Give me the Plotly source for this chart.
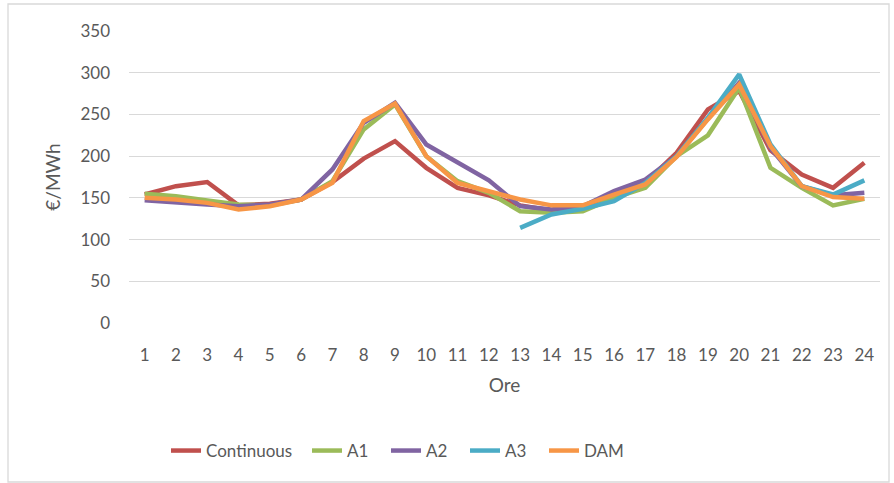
import plotly.graph_objects as go

# Hourly prices (€/MWh) for each market session
hours = [str(h) for h in range(1, 25)]

continuous = [154, 164, 169, 141, 143, 148, 169, 197, 218, 186, 162, 153,
              141, 135, 137, 152, 168, 204, 256, 278, 207, 178, 162, 192]
a1 = [155, 152, 147, 142, 141, 148, 170, 232, 262, 200, 170, 156,
      134, 132, 134, 150, 162, 200, 225, 282, 186, 162, 141, 149]
a2 = [147, 144, 142, 140, 142, 148, 184, 240, 264, 214, 192, 171,
      140, 136, 140, 158, 172, 200, 245, 288, 210, 164, 153, 156]
a3 = [None] * 12 + [114, 130, 137, 146, 168, 200, 246, 298, 214, 164, 154, 171]
dam = [150, 148, 144, 136, 140, 148, 168, 242, 263, 200, 168, 158,
       148, 141, 141, 154, 166, 199, 244, 286, 212, 164, 151, 149]

series_names = ["Continuous", "A1", "A2", "A3", "DAM"]
series_values = [continuous, a1, a2, a3, dam]
series_colors = ["#C0504D", "#9BBB59", "#8064A2", "#4BACC6", "#F79646"]

y_ticks = list(range(0, 351, 50))

font_family = "Lato, 'Liberation Sans', sans-serif"
text_color = "#595959"
grid_color = "#D9D9D9"

# plot area spans x 129..880 and y 31..323 in pixels
L, R, T, B = 129, 880, 31, 323
W, H = 894, 483
pw, ph = R - L, B - T


def px_x(p):
    return (p - L) / pw


def px_y(p):
    return (B - p) / ph


# each series gets its own one-entry legend so the entries can be spaced freely
legend_left = [166, 307, 386, 465, 544]
legend_ids = ["legend"] + [f"legend{i}" for i in range(2, len(series_names) + 1)]

fig = go.Figure()
for name, values, color, lid in zip(series_names, series_values, series_colors, legend_ids):
    fig.add_trace(go.Scatter(
        x=hours, y=values, name=name, mode="lines",
        line=dict(color=color, width=4.5),
        connectgaps=False, legend=lid,
    ))

legend_layouts = {
    lid: dict(
        orientation="h", x=px_x(lx), y=px_y(451),
        xanchor="left", yanchor="middle",
        font=dict(size=17, color=text_color, family=font_family),
        bgcolor="rgba(0,0,0,0)",
    )
    for lid, lx in zip(legend_ids, legend_left)
}

fig.update_layout(
    width=W, height=H,
    margin=dict(l=L, r=W - R, t=T, b=H - B, pad=0),
    paper_bgcolor="white", plot_bgcolor="white",
    font=dict(family=font_family, color=text_color, size=17),
    showlegend=True,
    xaxis=dict(
        type="category", range=[-0.5, 23.5],
        showgrid=False, showline=False, zeroline=False, ticks="",
        tickfont=dict(size=17, color=text_color),
        ticklabelstandoff=20,
        title=dict(text="Ore", font=dict(size=19, color=text_color), standoff=14),
    ),
    yaxis=dict(
        range=[0, 350], tickvals=y_ticks,
        showgrid=True, gridcolor=grid_color, gridwidth=1.3,
        zeroline=False, showline=False, ticks="",
        tickfont=dict(size=17, color=text_color),
        ticklabelstandoff=18,
        title=dict(text="€/MWh", font=dict(size=19, color=text_color), standoff=14),
    ),
    shapes=[dict(
        type="rect", xref="paper", yref="paper",
        x0=px_x(8), x1=px_x(889), y0=px_y(482), y1=px_y(4),
        line=dict(color=grid_color, width=1.3), fillcolor="rgba(0,0,0,0)",
        layer="below",
    )],
    **legend_layouts,
)

fig.write_html("out.html")
